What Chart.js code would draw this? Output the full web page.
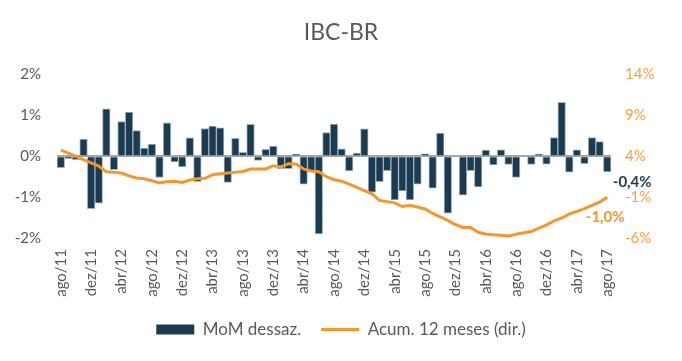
<!DOCTYPE html>
<html>
<head>
<meta charset="utf-8">
<script src="https://cdn.jsdelivr.net/npm/chart.js@4/dist/chart.umd.min.js"></script>
<style>
  html, body { margin: 0; padding: 0; background: #fff; }
  #wrap { width: 682px; height: 361px; }
</style>
</head>
<body>
<div id="wrap"><canvas id="chart" width="682" height="361"></canvas></div>
<script>
// months ago/11 .. ago/17
const months = [
    "ago/11","set/11","out/11","nov/11","dez/11",
    "jan/12","fev/12","mar/12","abr/12","mai/12","jun/12","jul/12","ago/12","set/12","out/12","nov/12","dez/12",
    "jan/13","fev/13","mar/13","abr/13","mai/13","jun/13","jul/13","ago/13","set/13","out/13","nov/13","dez/13",
    "jan/14","fev/14","mar/14","abr/14","mai/14","jun/14","jul/14","ago/14","set/14","out/14","nov/14","dez/14",
    "jan/15","fev/15","mar/15","abr/15","mai/15","jun/15","jul/15","ago/15","set/15","out/15","nov/15","dez/15",
    "jan/16","fev/16","mar/16","abr/16","mai/16","jun/16","jul/16","ago/16","set/16","out/16","nov/16","dez/16",
    "jan/17","fev/17","mar/17","abr/17","mai/17","jun/17","jul/17","ago/17"
];

// MoM dessaz. (%)
const momValues = [
    -0.28, -0.05, -0.08, 0.42, -1.28, -1.15, 1.16, -0.33, 0.85, 1.08,
    0.63, 0.20, 0.30, -0.52, 0.82, -0.14, -0.26, 0.45, -0.62, 0.68,
    0.74, 0.70, -0.64, 0.44, 0.10, 0.78, -0.10, 0.17, 0.25, -0.30,
    -0.30, 0.05, -0.68, -0.37, -1.90, 0.58, 0.79, 0.18, -0.36, 0.08,
    0.67, -0.88, -0.62, -0.35, -1.07, -0.85, -1.07, -0.68, 0.06, -0.78,
    0.57, -1.39, 0.00, -0.95, -0.35, -0.75, 0.15, -0.21, 0.16, -0.20,
    -0.52, 0.00, -0.20, 0.05, -0.19, 0.46, 1.32, -0.39, 0.16, -0.18,
    0.46, 0.36, -0.38
];

// Acum. 12 meses (%), right axis
const accValues = [
    4.75, 4.40, 4.00, 3.60, 3.20, 2.80, 2.10, 2.05, 1.95, 1.60,
    1.35, 1.25, 1.00, 0.75, 0.90, 0.95, 0.80, 1.10, 1.25, 1.30,
    1.75, 1.85, 1.95, 2.05, 2.15, 2.45, 2.45, 2.45, 2.85, 2.70,
    3.10, 3.05, 2.45, 2.20, 2.10, 1.50, 1.15, 0.95, 0.60, 0.20,
    -0.20, -0.60, -1.40, -1.55, -1.70, -2.15, -2.00, -2.20, -2.45, -3.00,
    -3.40, -3.85, -4.35, -4.70, -4.70, -5.30, -5.50, -5.60, -5.65, -5.75,
    -5.55, -5.35, -5.20, -4.80, -4.40, -3.90, -3.55, -3.05, -2.75, -2.40,
    -2.00, -1.60, -1.00
];

const leftTicks = [-2, -1, 0, 1, 2];
const rightTicks = [-6, -1, 4, 9, 14];

const navy = "#1b3b50";
const orange = "#f7962a";
const grey = "#595959";
const font = "Lato, 'Open Sans', sans-serif";

// last-value labels
const endLabels = {
    id: "endLabels",
    afterDatasetsDraw(chart) {
        const ctx = chart.ctx;
        const last = months.length - 1;
        const bar = chart.getDatasetMeta(0).data[last];
        const pt = chart.getDatasetMeta(1).data[last];
        ctx.save();
        ctx.font = "bold 15px " + font;
        ctx.textAlign = "center";
        ctx.textBaseline = "middle";
        ctx.fillStyle = navy;
        ctx.fillText(momValues[last].toFixed(1).replace(".", ",") + "%", bar.x + 25, bar.y + 10);
        ctx.fillStyle = orange;
        ctx.fillText(accValues[last].toFixed(1).replace(".", ",") + "%", pt.x - 2, pt.y + 20);
        ctx.restore();
    }
};

new Chart(document.getElementById("chart").getContext("2d"), {
    data: {
        labels: months,
        datasets: [{
            type: "bar",
            label: "MoM dessaz.",
            data: momValues,
            backgroundColor: navy,
            borderColor: "#9fb2bf",
            borderWidth: 1,
            barPercentage: 1,
            categoryPercentage: 1,
            yAxisID: "y",
            pointStyle: "rect",
            order: 2
        }, {
            type: "line",
            label: "Acum. 12 meses (dir.)",
            data: accValues,
            borderColor: orange,
            backgroundColor: orange,
            borderWidth: 3,
            pointRadius: 0,
            pointStyle: "line",
            tension: 0,
            yAxisID: "y1",
            order: 1
        }]
    },
    options: {
        responsive: false,
        animation: false,
        layout: { padding: { left: 0, right: 0, top: 0, bottom: 13 } },
        plugins: {
            title: {
                display: true,
                text: "IBC-BR",
                color: grey,
                font: { family: font, size: 23, weight: "normal" },
                padding: { top: 19, bottom: 28 }
            },
            legend: {
                position: "bottom",
                labels: {
                    color: grey,
                    font: { family: font, size: 17 },
                    usePointStyle: true,
                    pointStyleWidth: 38,
                    boxHeight: 10,
                    padding: 20,
                    generateLabels(chart) {
                        return chart.data.datasets.map((ds, i) => ({
                            text: ds.label,
                            fillStyle: i === 0 ? navy : orange,
                            strokeStyle: i === 0 ? navy : orange,
                            lineWidth: i === 0 ? 0 : 3,
                            pointStyle: ds.pointStyle,
                            fontColor: grey,
                            datasetIndex: i
                        }));
                    }
                }
            },
            tooltip: { enabled: false }
        },
        scales: {
            x: {
                grid: { display: false, drawTicks: false },
                border: { display: false },
                afterFit(scale) { scale.height = 63; },
                ticks: {
                    autoSkip: false,
                    minRotation: 90,
                    maxRotation: 90,
                    padding: 11,
                    color: grey,
                    font: { family: font, size: 15 },
                    callback: function (v, i) { return i % 4 === 0 ? months[i] : ""; }
                }
            },
            y: {
                position: "left",
                min: -2,
                max: 2,
                afterBuildTicks(scale) { scale.ticks = leftTicks.map(v => ({ value: v })); },
                afterFit(scale) { scale.width = 57; },
                border: { display: false },
                grid: {
                    drawTicks: false,
                    lineWidth: 2,
                    color: ctx => ctx.tick && ctx.tick.value === 0 ? "#a6a6a6" : "rgba(0,0,0,0)"
                },
                ticks: {
                    padding: 16,
                    color: grey,
                    font: { family: font, size: 15 },
                    callback: v => v + "%"
                }
            },
            y1: {
                position: "right",
                min: -6,
                max: 14,
                afterBuildTicks(scale) { scale.ticks = rightTicks.map(v => ({ value: v })); },
                afterFit(scale) { scale.width = 71; },
                border: { display: false },
                grid: { display: false, drawTicks: false },
                ticks: {
                    padding: 14,
                    color: "#f7a040",
                    font: { family: font, size: 15 },
                    callback: v => v + "%"
                }
            }
        }
    },
    plugins: [endLabels]
});
</script>
</body>
</html>
